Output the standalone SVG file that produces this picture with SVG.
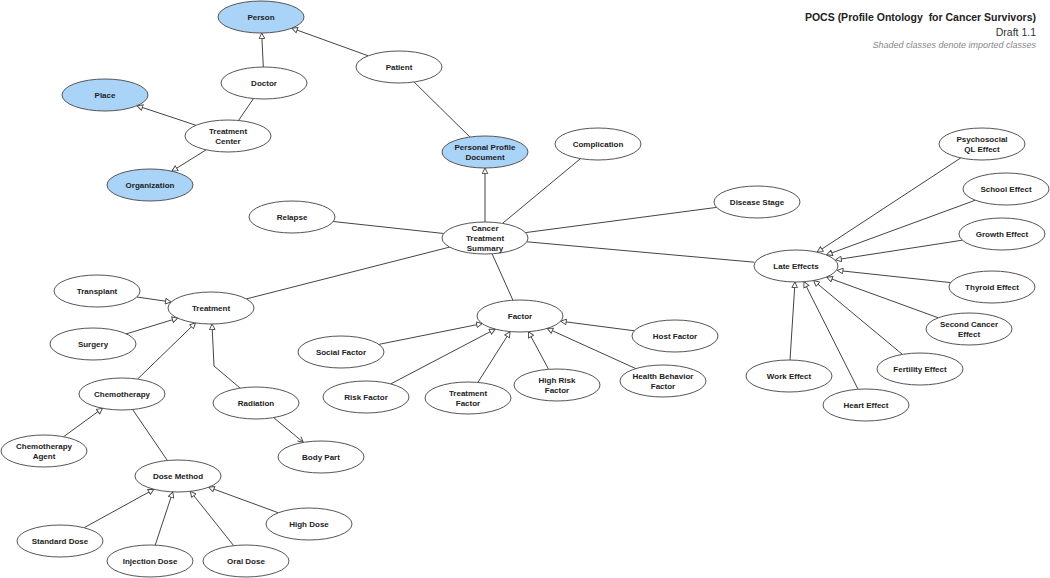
<svg xmlns="http://www.w3.org/2000/svg" width="1050" height="578" viewBox="0 0 1050 578">
<defs>
<style>
.n ellipse{fill:#fff;stroke:#555;stroke-width:1}
.n.imp ellipse{fill:#a9d3f7}
.n text{font-family:"Liberation Sans",Arial,sans-serif;font-size:8px;font-weight:bold;fill:#222;text-anchor:middle}
#edges line,#edges polyline{stroke:#444;stroke-width:1;fill:none}
.isa{marker-end:url(#tri)}
.title{font-family:"Liberation Sans",Arial,sans-serif;text-anchor:end}
</style>
<marker id="tri" viewBox="0 0 10 10" refX="9" refY="5" markerWidth="7" markerHeight="7" markerUnits="userSpaceOnUse" orient="auto">
<path d="M1,1 L9,5 L1,9 Z" fill="#fff" stroke="#444" stroke-width="1.3"/>
</marker>
<marker id="open" viewBox="0 0 10 10" refX="9" refY="5" markerWidth="7" markerHeight="7" markerUnits="userSpaceOnUse" orient="auto">
<path d="M1,1 L9,5 L1,9" fill="none" stroke="#444" stroke-width="1.3"/>
</marker>
</defs>
<rect width="1050" height="578" fill="#fff"/>

<g id="edges">
<line class="isa" x1="263.3" y1="67" x2="261.7" y2="33"/>
<line class="isa" x1="368.2" y1="55.8" x2="291.8" y2="28.2"/>
<line x1="238.5" y1="120.5" x2="253.5" y2="98.5"/>
<line class="isa" x1="196" y1="125.3" x2="137" y2="105.7"/>
<line class="isa" x1="206.1" y1="149.8" x2="171.9" y2="171.2"/>
<line x1="414.1" y1="82" x2="469.9" y2="137"/>
<line class="isa" x1="485" y1="222" x2="485" y2="168"/>
<line x1="502.5" y1="223.4" x2="580.5" y2="158.6"/>
<line x1="443.8" y1="233.5" x2="333.2" y2="221.5"/>
<line x1="525.5" y1="232.6" x2="716.5" y2="207.4"/>
<line x1="526.8" y1="241.8" x2="754.2" y2="262.2"/>
<line x1="492.1" y1="253.8" x2="512.9" y2="300.2"/>
<line x1="449.6" y1="247.1" x2="246.4" y2="298.9"/>
<line class="isa" x1="960.8" y1="157.9" x2="817.2" y2="252.1"/>
<line class="isa" x1="975.4" y1="200.2" x2="826.6" y2="254.8"/>
<line class="isa" x1="962.3" y1="240.2" x2="835.7" y2="259.8"/>
<line class="isa" x1="950.7" y1="282.6" x2="837.3" y2="270.4"/>
<line class="isa" x1="938.3" y1="317.8" x2="826.7" y2="277.2"/>
<line class="isa" x1="902.4" y1="354.4" x2="813.6" y2="280.6"/>
<line class="isa" x1="858.1" y1="389.3" x2="803.9" y2="281.7"/>
<line class="isa" x1="790" y1="360" x2="795" y2="282"/>
<line class="isa" x1="378.8" y1="344.4" x2="482.2" y2="323.6"/>
<line class="isa" x1="390.8" y1="383.9" x2="495.2" y2="329.1"/>
<line class="isa" x1="477.9" y1="382.4" x2="510.1" y2="331.6"/>
<line class="isa" x1="548.6" y1="369.3" x2="528.4" y2="331.7"/>
<line class="isa" x1="635.8" y1="368.6" x2="547.2" y2="328.4"/>
<line class="isa" x1="634.4" y1="330.8" x2="560.6" y2="321.2"/>
<line class="isa" x1="136.9" y1="297" x2="171.1" y2="302"/>
<line class="isa" x1="126.2" y1="333.9" x2="177.8" y2="318.1"/>
<line class="isa" x1="137.5" y1="379.1" x2="195.5" y2="322.9"/>
<polyline class="isa" points="240,388 214,366 212,324"/>
<line class="isa" x1="63.5" y1="436.8" x2="102.5" y2="408.3"/>
<line x1="132.6" y1="409.5" x2="167.4" y2="460.5"/>
<line x1="273.6" y1="417.6" x2="303.4" y2="442.4" marker-end="url(#open)"/>
<line class="isa" x1="84.1" y1="527.7" x2="153.9" y2="489.3"/>
<line class="isa" x1="155.2" y1="545.1" x2="172.8" y2="491.9"/>
<line class="isa" x1="233.7" y1="545.7" x2="190.3" y2="491.3"/>
<line class="isa" x1="278.4" y1="512.8" x2="208.6" y2="487.2"/>
</g>

<g id="person" class="n imp"><ellipse cx="261" cy="17" rx="43" ry="16"/><text x="261" y="20">Person</text></g>
<g id="doctor" class="n"><ellipse cx="264" cy="83" rx="43" ry="16"/><text x="264" y="86">Doctor</text></g>
<g id="place" class="n imp"><ellipse cx="105" cy="95" rx="43" ry="16"/><text x="105" y="98">Place</text></g>
<g id="treatment-center" class="n"><ellipse cx="228" cy="136" rx="43" ry="16"/><text x="228" y="134">Treatment</text><text x="228" y="144">Center</text></g>
<g id="organization" class="n imp"><ellipse cx="150" cy="185" rx="43" ry="16"/><text x="150" y="188">Organization</text></g>
<g id="patient" class="n"><ellipse cx="399" cy="67" rx="43" ry="16"/><text x="399" y="70">Patient</text></g>
<g id="personal-profile-document" class="n imp"><ellipse cx="485" cy="152" rx="43" ry="16"/><text x="485" y="150">Personal Profile</text><text x="485" y="160">Document</text></g>
<g id="complication" class="n"><ellipse cx="598" cy="144" rx="43" ry="16"/><text x="598" y="147">Complication</text></g>
<g id="relapse" class="n"><ellipse cx="292" cy="217" rx="43" ry="16"/><text x="292" y="220">Relapse</text></g>
<g id="cancer-treatment-summary" class="n"><ellipse cx="485" cy="238" rx="43" ry="16"/><text x="485" y="231">Cancer</text><text x="485" y="241">Treatment</text><text x="485" y="251">Summary</text></g>
<g id="disease-stage" class="n"><ellipse cx="757" cy="202" rx="43" ry="16"/><text x="757" y="205">Disease Stage</text></g>
<g id="late-effects" class="n"><ellipse cx="796" cy="266" rx="42" ry="16"/><text x="796" y="269">Late Effects</text></g>
<g id="psychosocial" class="n"><ellipse cx="982" cy="144" rx="43" ry="16"/><text x="982" y="142">Psychosocial</text><text x="982" y="152">QL Effect</text></g>
<g id="school-effect" class="n"><ellipse cx="1006" cy="189" rx="43" ry="16"/><text x="1006" y="192">School Effect</text></g>
<g id="growth-effect" class="n"><ellipse cx="1002" cy="234" rx="43" ry="16"/><text x="1002" y="237">Growth Effect</text></g>
<g id="thyroid-effect" class="n"><ellipse cx="992" cy="287" rx="43" ry="16"/><text x="992" y="290">Thyroid Effect</text></g>
<g id="second-cancer-effect" class="n"><ellipse cx="969" cy="329" rx="43" ry="16"/><text x="969" y="327">Second Cancer</text><text x="969" y="337">Effect</text></g>
<g id="fertility-effect" class="n"><ellipse cx="920" cy="369" rx="43" ry="16"/><text x="920" y="372">Fertility Effect</text></g>
<g id="heart-effect" class="n"><ellipse cx="866" cy="405" rx="43" ry="16"/><text x="866" y="408">Heart Effect</text></g>
<g id="work-effect" class="n"><ellipse cx="789" cy="376" rx="43" ry="16"/><text x="789" y="379">Work Effect</text></g>
<g id="factor" class="n"><ellipse cx="520" cy="316" rx="43" ry="16"/><text x="520" y="319">Factor</text></g>
<g id="host-factor" class="n"><ellipse cx="675" cy="336" rx="43" ry="16"/><text x="675" y="339">Host Factor</text></g>
<g id="social-factor" class="n"><ellipse cx="341" cy="352" rx="43" ry="16"/><text x="341" y="355">Social Factor</text></g>
<g id="risk-factor" class="n"><ellipse cx="366" cy="397" rx="43" ry="16"/><text x="366" y="400">Risk Factor</text></g>
<g id="treatment-factor" class="n"><ellipse cx="468" cy="398" rx="43" ry="16"/><text x="468" y="396">Treatment</text><text x="468" y="406">Factor</text></g>
<g id="high-risk-factor" class="n"><ellipse cx="557" cy="385" rx="43" ry="16"/><text x="557" y="383">High Risk</text><text x="557" y="393">Factor</text></g>
<g id="health-behavior-factor" class="n"><ellipse cx="663" cy="381" rx="43" ry="16"/><text x="663" y="379">Health Behavior</text><text x="663" y="389">Factor</text></g>
<g id="treatment" class="n"><ellipse cx="211" cy="308" rx="43" ry="16"/><text x="211" y="311">Treatment</text></g>
<g id="transplant" class="n"><ellipse cx="97" cy="291" rx="43" ry="16"/><text x="97" y="294">Transplant</text></g>
<g id="surgery" class="n"><ellipse cx="93" cy="344" rx="43" ry="16"/><text x="93" y="347">Surgery</text></g>
<g id="chemotherapy" class="n"><ellipse cx="122" cy="394" rx="43" ry="16"/><text x="122" y="397">Chemotherapy</text></g>
<g id="radiation" class="n"><ellipse cx="256" cy="403" rx="43" ry="16"/><text x="256" y="406">Radiation</text></g>
<g id="chemotherapy-agent" class="n"><ellipse cx="44" cy="451" rx="43" ry="16"/><text x="44" y="449">Chemotherapy</text><text x="44" y="459">Agent</text></g>
<g id="body-part" class="n"><ellipse cx="321" cy="457" rx="43" ry="16"/><text x="321" y="460">Body Part</text></g>
<g id="dose-method" class="n"><ellipse cx="178" cy="476" rx="43" ry="16"/><text x="178" y="479">Dose Method</text></g>
<g id="standard-dose" class="n"><ellipse cx="60" cy="541" rx="43" ry="16"/><text x="60" y="544">Standard Dose</text></g>
<g id="injection-dose" class="n"><ellipse cx="150" cy="561" rx="43" ry="16"/><text x="150" y="564">Injection Dose</text></g>
<g id="oral-dose" class="n"><ellipse cx="246" cy="561" rx="43" ry="16"/><text x="246" y="564">Oral Dose</text></g>
<g id="high-dose" class="n"><ellipse cx="309" cy="524" rx="43" ry="16"/><text x="309" y="527">High Dose</text></g>

<g id="title">
<text class="title" x="1036" y="21" font-size="10.5" font-weight="bold" fill="#222" xml:space="preserve">POCS (Profile Ontology  for Cancer Survivors)</text>
<text class="title" x="1036" y="36" font-size="10.5" fill="#333">Draft 1.1</text>
<text class="title" x="1036" y="48" font-size="9" font-style="italic" fill="#888">Shaded classes denote imported classes</text>
</g>
</svg>
